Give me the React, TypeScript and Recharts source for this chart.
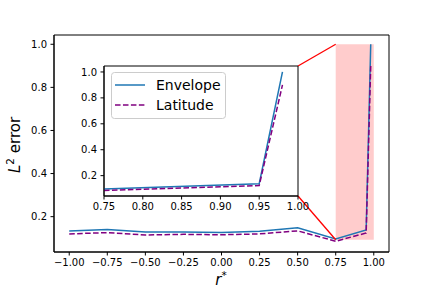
import React from 'react';
import {
  ComposedChart,
  Line,
  XAxis,
  YAxis,
  ReferenceArea,
  ReferenceLine,
} from 'recharts';

// r* sample points and the two error curves
const R_STAR = [-1, -0.75, -0.5, -0.25, 0, 0.25, 0.5, 0.75, 0.95, 0.98];
const ENVELOPE = [0.134, 0.14, 0.129, 0.129, 0.126, 0.132, 0.148, 0.097, 0.138, 1.0];
const LATITUDE = [0.12, 0.126, 0.115, 0.118, 0.116, 0.12, 0.134, 0.086, 0.124, 0.9];

const MAIN_X_TICKS = [-1, -0.75, -0.5, -0.25, 0, 0.25, 0.5, 0.75, 1];
const INSET_X_TICKS = [0.75, 0.8, 0.85, 0.9, 0.95, 1.0];
const Y_TICKS = [0.2, 0.4, 0.6, 0.8, 1.0];

// zoomed region shown by the inset
const ZOOM_X = [0.75, 1.0];
const ZOOM_Y = [0.093, 1.0];

const MAIN_X_DOMAIN = [-1.1, 1.1];
const MAIN_Y_DOMAIN = [0.036, 1.043];
const INSET_Y_DOMAIN = [0.043, 1.046];

const data = R_STAR.map((r, i) => ({ r, envelope: ENVELOPE[i], latitude: LATITUDE[i] }));
const insetData = data.filter((d) => d.r >= ZOOM_X[0]);

// plot boxes in page pixels
const MAIN = { left: 54, top: 35, right: 389, bottom: 252 };
const INSET = { left: 104, top: 66, right: 298, bottom: 196 };

const FONT = 'DejaVu Sans';
const BLUE = '#1f77b4';
const PURPLE = '#800080';
const DASH = '5.55 2.4';

const minus = (s: string) => s.replace('-', '\u2212');
const fmt2 = (v: number) => minus(v.toFixed(2));
const fmt1 = (v: number) => minus(v.toFixed(1));

// page pixel -> main data coords (for the inset connector lines)
const pxToX = (px: number) =>
  MAIN_X_DOMAIN[0] + ((px - MAIN.left) / (MAIN.right - MAIN.left)) * (MAIN_X_DOMAIN[1] - MAIN_X_DOMAIN[0]);
const pxToY = (py: number) =>
  MAIN_Y_DOMAIN[1] - ((py - MAIN.top) / (MAIN.bottom - MAIN.top)) * (MAIN_Y_DOMAIN[1] - MAIN_Y_DOMAIN[0]);

const tick = { fill: '#000', fontSize: 10, fontFamily: FONT };

const YLabel = () => (
  <text transform="translate(20,145) rotate(-90)" textAnchor="middle" fontSize={15} fontFamily={FONT} fill="#000">
    <tspan fontStyle="italic">L</tspan>
    <tspan dy={-6} fontSize={10.5}>2</tspan>
    <tspan dy={6}> error</tspan>
  </text>
);

const XLabel = () => (
  <text x={221} y={285} textAnchor="middle" fontSize={15} fontFamily={FONT} fill="#000">
    <tspan fontStyle="italic">r</tspan>
    <tspan dy={-6} fontSize={10.5}>*</tspan>
  </text>
);

const InsetLegend = () => (
  <svg width={116} height={48} style={{ position: 'absolute', left: 111, top: 72 }}>
    <rect x={0.5} y={0.5} width={114} height={46} rx={3} fill="rgba(255,255,255,0.8)" stroke="#cccccc" />
    <line x1={4} x2={34} y1={13} y2={13} stroke={BLUE} strokeWidth={1.5} />
    <text x={45} y={18} fontSize={14} fontFamily={FONT} fill="#000">Envelope</text>
    <line x1={4} x2={34} y1={33} y2={33} stroke={PURPLE} strokeWidth={1.5} strokeDasharray={DASH} />
    <text x={45} y={38} fontSize={14} fontFamily={FONT} fill="#000">Latitude</text>
  </svg>
);

export default function App() {
  const insetBox = { left: INSET.left - 40, top: INSET.top - 6 };
  return (
    <div style={{ position: 'absolute', left: 0, top: 0, width: 432, height: 288, background: '#fff' }}>
      <div style={{ position: 'absolute', left: 0, top: 0 }}>
        <ComposedChart
          width={432}
          height={288}
          data={data}
          margin={{ top: MAIN.top, right: 432 - MAIN.right, bottom: 0, left: 0 }}
        >
          <XAxis
            dataKey="r"
            type="number"
            domain={MAIN_X_DOMAIN}
            ticks={MAIN_X_TICKS}
            tickFormatter={fmt2}
            height={288 - MAIN.bottom}
            tickSize={3.5}
            tickMargin={3.5}
            tick={tick}
            stroke="#000"
            allowDataOverflow
            label={<XLabel />}
          />
          <YAxis
            type="number"
            domain={MAIN_Y_DOMAIN}
            ticks={Y_TICKS}
            tickFormatter={fmt1}
            width={MAIN.left}
            tickSize={3.5}
            tickMargin={3.5}
            tick={tick}
            stroke="#000"
            allowDataOverflow
            label={<YLabel />}
          />
          <ReferenceArea x1={ZOOM_X[0]} x2={ZOOM_X[1]} y1={ZOOM_Y[0]} y2={ZOOM_Y[1]} fill="#ffcccc" fillOpacity={1} stroke="none" />
          <ReferenceArea
            x1={MAIN_X_DOMAIN[0]}
            x2={MAIN_X_DOMAIN[1]}
            y1={MAIN_Y_DOMAIN[0]}
            y2={MAIN_Y_DOMAIN[1]}
            fill="none"
            stroke="#000"
          />
          <Line dataKey="envelope" stroke={BLUE} strokeWidth={1.5} dot={false} isAnimationActive={false} />
          <Line dataKey="latitude" stroke={PURPLE} strokeWidth={1.5} strokeDasharray={DASH} dot={false} isAnimationActive={false} />
          <ReferenceLine
            segment={[{ x: ZOOM_X[0], y: ZOOM_Y[1] }, { x: pxToX(INSET.right), y: pxToY(INSET.top) }]}
            stroke="red"
            strokeWidth={1.3}
          />
          <ReferenceLine
            segment={[{ x: ZOOM_X[0], y: ZOOM_Y[0] }, { x: pxToX(INSET.right), y: pxToY(INSET.bottom) }]}
            stroke="red"
            strokeWidth={1.3}
          />
        </ComposedChart>
      </div>
      <div style={{ position: 'absolute', left: insetBox.left, top: insetBox.top }}>
        <ComposedChart
          width={INSET.right - insetBox.left + 20}
          height={INSET.bottom - insetBox.top + 20}
          data={insetData}
          margin={{ top: 6, right: 20, bottom: 0, left: 0 }}
        >
          <ReferenceArea
            x1={ZOOM_X[0]}
            x2={ZOOM_X[1]}
            y1={INSET_Y_DOMAIN[0]}
            y2={INSET_Y_DOMAIN[1]}
            fill="#fff"
            fillOpacity={1}
            stroke="#000"
          />
          <XAxis
            dataKey="r"
            type="number"
            domain={ZOOM_X}
            ticks={INSET_X_TICKS}
            tickFormatter={fmt2}
            height={20}
            tickSize={3.5}
            tickMargin={3.5}
            tick={tick}
            stroke="#000"
            allowDataOverflow
          />
          <YAxis
            type="number"
            domain={INSET_Y_DOMAIN}
            ticks={Y_TICKS}
            tickFormatter={fmt1}
            width={40}
            tickSize={3.5}
            tickMargin={3.5}
            tick={tick}
            stroke="#000"
            allowDataOverflow
          />
          <Line dataKey="envelope" stroke={BLUE} strokeWidth={1.5} dot={false} isAnimationActive={false} />
          <Line dataKey="latitude" stroke={PURPLE} strokeWidth={1.5} strokeDasharray={DASH} dot={false} isAnimationActive={false} />
        </ComposedChart>
      </div>
      <InsetLegend />
    </div>
  );
}
